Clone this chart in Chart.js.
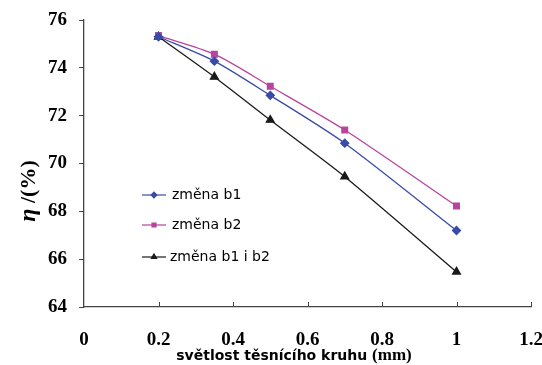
<!DOCTYPE html>
<html>
<head>
<meta charset="utf-8">
<script src="https://cdn.jsdelivr.net/npm/chart.js@4.4.0/dist/chart.umd.min.js"></script>
<style>
  html, body { margin: 0; padding: 0; background: #fff; }
  #wrap { width: 542px; height: 365px; }
</style>
</head>
<body>
<div id="wrap"><canvas id="myChart" width="542" height="365"></canvas></div>
<script>
// values
const xValues = [0.2, 0.35, 0.5, 0.7, 1.0];
const zmenaB1 = [75.3, 74.28, 72.85, 70.85, 67.2];
const zmenaB2 = [75.35, 74.57, 73.23, 71.4, 68.22];
const zmenaB1B2 = [75.3, 73.62, 71.82, 69.45, 65.47];
const seriesNames = ['změna b1', 'změna b2', 'změna b1 i b2'];
const xTicks = [0, 0.2, 0.4, 0.6, 0.8, 1, 1.2];
const yTicks = [64, 66, 68, 70, 72, 74, 76];
const xTitle = ['světlost těsnícího kruhu', '(mm)'];
const yTitle = ['η', ' /(%)'];

const colors = ['#3a4aa8', '#b8449e', '#1a1a1a'];
const markers = ['rectRot', 'rect', 'triangle'];

function toPoints(ys) {
    return xValues.map((x, i) => ({ x: x, y: ys[i] }));
}

// titles, inward x ticks and the in-plot legend
const decorations = {
    id: 'decorations',
    afterDraw(chart) {
        const ctx = chart.ctx;
        const area = chart.chartArea;
        const xs = chart.scales.x;
        ctx.save();

        // x ticks point up into the plot
        ctx.strokeStyle = '#444';
        ctx.lineWidth = 1;
        xTicks.forEach(v => {
            if (v === 0) return;
            const px = Math.round(xs.getPixelForValue(v)) + 0.5;
            ctx.beginPath();
            ctx.moveTo(px, area.bottom);
            ctx.lineTo(px, area.bottom - 5);
            ctx.stroke();
        });

        // x title, two fonts
        ctx.fillStyle = '#000';
        ctx.textBaseline = 'alphabetic';
        const f1 = 'bold 14px "DejaVu Sans"';
        const f2 = 'bold 17px "Liberation Serif"';
        ctx.font = f1;
        const w1 = ctx.measureText(xTitle[0] + ' ').width;
        ctx.font = f2;
        const w2 = ctx.measureText(xTitle[1]).width;
        let tx = 294 - (w1 + w2) / 2;
        ctx.font = f1;
        ctx.textAlign = 'left';
        ctx.fillText(xTitle[0] + ' ', tx, 360);
        ctx.font = f2;
        ctx.fillText(xTitle[1], tx + w1, 360);

        // y title, rotated
        ctx.save();
        ctx.translate(35, 191);
        ctx.rotate(-Math.PI / 2);
        const g1 = 'bold italic 24px "Liberation Serif"';
        const g2 = 'bold 22px "Liberation Serif"';
        ctx.font = g1;
        const v1 = ctx.measureText(yTitle[0]).width;
        ctx.font = g2;
        const v2 = ctx.measureText(yTitle[1]).width;
        let ty = -(v1 + v2) / 2;
        ctx.font = g1;
        ctx.fillText(yTitle[0], ty, 0);
        ctx.font = g2;
        ctx.fillText(yTitle[1], ty + v1, 0);
        ctx.restore();

        // legend
        const rows = [195, 225, 257];
        ctx.font = '14px "DejaVu Sans"';
        ctx.textBaseline = 'middle';
        seriesNames.forEach((name, i) => {
            const y = rows[i];
            ctx.strokeStyle = colors[i];
            ctx.lineWidth = 1.2;
            ctx.beginPath();
            ctx.moveTo(142, y);
            ctx.lineTo(166, y);
            ctx.stroke();
            ctx.fillStyle = colors[i];
            Chart.helpers.drawPoint(ctx, { pointStyle: markers[i], radius: i === 2 ? 3 : 2.8, borderWidth: 1 }, 154, y);
            ctx.fill();
            ctx.fillStyle = '#000';
            ctx.fillText(name, i === 2 ? 170 : 172, y);
        });

        ctx.restore();
    }
};

function makeDataset(label, ys, i) {
    return {
        label: label,
        data: toPoints(ys),
        showLine: true,
        borderColor: colors[i],
        backgroundColor: colors[i],
        pointBackgroundColor: colors[i],
        pointBorderColor: colors[i],
        pointStyle: markers[i],
        pointRadius: i === 2 ? 4.5 : 4,
        borderWidth: 1.3,
        tension: 0.25
    };
}

const ctx = document.getElementById('myChart').getContext('2d');
const chart = new Chart(ctx, {
    type: 'scatter',
    data: {
        datasets: [
            makeDataset(seriesNames[0], zmenaB1, 0),
            makeDataset(seriesNames[1], zmenaB2, 1),
            makeDataset(seriesNames[2], zmenaB1B2, 2)
        ]
    },
    options: {
        responsive: false,
        animation: false,
        layout: { padding: { top: 20, right: 11, left: 0, bottom: 0 } },
        plugins: {
            legend: { display: false },
            tooltip: { enabled: false }
        },
        scales: {
            x: {
                type: 'linear',
                min: 0,
                max: 1.2,
                afterBuildTicks: s => { s.ticks = xTicks.map(v => ({ value: v })); },
                afterFit: s => {
                    s.height = 365 - 307;
                    s.paddingLeft = 0;
                    s.paddingRight = 0;
                },
                grid: { display: false, drawTicks: false },
                border: { display: true, color: '#444', width: 1.3 },
                ticks: {
                    color: '#000',
                    padding: 22,
                    maxRotation: 0,
                    font: { family: 'Liberation Serif', size: 19, weight: 'bold' },
                    callback: v => String(v)
                }
            },
            y: {
                type: 'linear',
                min: 64,
                max: 76,
                afterBuildTicks: s => { s.ticks = yTicks.map(v => ({ value: v })); },
                afterFit: s => {
                    s.width = 84;
                    s.paddingTop = 0;
                    s.paddingBottom = 0;
                },
                grid: { display: true, drawOnChartArea: false, drawTicks: true, tickLength: 5, color: '#444' },
                border: { display: true, color: '#444', width: 1.3 },
                ticks: {
                    color: '#000',
                    padding: 12,
                    font: { family: 'Liberation Serif', size: 19, weight: 'bold' },
                    callback: v => String(v)
                }
            }
        }
    },
    plugins: [decorations]
});
</script>
</body>
</html>
